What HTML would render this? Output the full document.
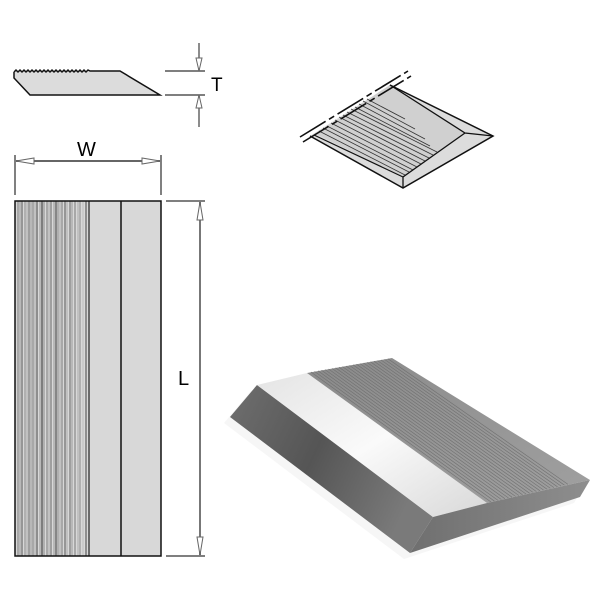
<!DOCTYPE html>
<html><head><meta charset="utf-8"><style>
html,body{margin:0;padding:0;background:#fff;width:600px;height:600px;overflow:hidden}
svg{display:block}
text{font-family:"Liberation Sans",sans-serif;fill:#000}
</style></head><body>
<svg width="600" height="600" viewBox="0 0 600 600" xmlns="http://www.w3.org/2000/svg">
<defs>
<linearGradient id="bev" x1="0" y1="0" x2="1" y2="0.4">
<stop offset="0" stop-color="#6f6f6f"/><stop offset="0.5" stop-color="#555"/><stop offset="1" stop-color="#7a7a7a"/></linearGradient>
<linearGradient id="wht" x1="0" y1="0" x2="1" y2="1">
<stop offset="0" stop-color="#e4e4e4"/><stop offset="0.5" stop-color="#fafafa"/><stop offset="1" stop-color="#d8d8d8"/></linearGradient>
<linearGradient id="rid" x1="0" y1="0" x2="1" y2="1">
<stop offset="0" stop-color="#8a8a8a"/><stop offset="1" stop-color="#a0a0a0"/></linearGradient>
<linearGradient id="frt" x1="0" y1="0" x2="1" y2="0">
<stop offset="0" stop-color="#6f6f6f"/><stop offset="1" stop-color="#8e8e8e"/></linearGradient>
</defs>

<polygon points="14,72 14,78 30,95 160,95 120,71 89,71 14,72" fill="#dcdcdc" stroke="none"/>
<polyline points="14,72 16,70 18,72 20,70 22,72 24,70 26,72 28,70 30,72 32,70 34,72 36,70 38,72 40,70 42,72 44,70 46,72 48,70 50,72 52,70 54,72 56,70 58,72 60,70 62,72 64,70 66,72 68,70 70,72 72,70 74,72 76,70 78,72 80,70 82,72 84,70 86,72 88,70 90,71 120,71 160,95 30,95 14,78 14,72" fill="none" stroke="#111" stroke-width="1.5"/>
<line x1="165" y1="71" x2="205" y2="71" stroke="#555" stroke-width="1.5"/>
<line x1="165" y1="95" x2="205" y2="95" stroke="#555" stroke-width="1.5"/>
<line x1="199" y1="43" x2="199" y2="70" stroke="#666" stroke-width="1.5"/>
<polygon points="196,58 199,71 202,58" fill="#fff" stroke="#666"/>
<line x1="199" y1="96" x2="199" y2="127" stroke="#666" stroke-width="1.5"/>
<polygon points="196,108 199,95 202,108" fill="#fff" stroke="#666"/>
<text x="211" y="91" font-size="19">T</text>

<line x1="15" y1="155" x2="15" y2="195" stroke="#555" stroke-width="1.5"/>
<line x1="161" y1="155" x2="161" y2="195" stroke="#555" stroke-width="1.5"/>
<line x1="16" y1="161" x2="160" y2="161" stroke="#666" stroke-width="2"/>
<polygon points="16,161 34,158 34,164" fill="#fff" stroke="#666"/>
<polygon points="160,161 142,158 142,164" fill="#fff" stroke="#666"/>
<text x="77" y="156" font-size="20">W</text>

<rect x="15" y="201" width="146" height="355" fill="#d8d8d8"/>
<g stroke-width="1">
<line x1="18" y1="201" x2="18" y2="556" stroke="#777"/>
<line x1="20" y1="201" x2="20" y2="556" stroke="#999"/>
<line x1="22" y1="201" x2="22" y2="556" stroke="#555"/>
<line x1="25" y1="201" x2="25" y2="556" stroke="#888"/>
<line x1="27" y1="201" x2="27" y2="556" stroke="#aaa"/>
<line x1="29" y1="201" x2="29" y2="556" stroke="#666"/>
<line x1="31" y1="201" x2="31" y2="556" stroke="#999"/>
<line x1="33" y1="201" x2="33" y2="556" stroke="#777"/>
<line x1="35" y1="201" x2="35" y2="556" stroke="#aaa"/>
<line x1="37" y1="201" x2="37" y2="556" stroke="#444"/>
<line x1="40" y1="201" x2="40" y2="556" stroke="#999"/>
<line x1="42" y1="201" x2="42" y2="556" stroke="#222"/>
<line x1="44" y1="201" x2="44" y2="556" stroke="#888"/>
<line x1="47" y1="201" x2="47" y2="556" stroke="#777"/>
<line x1="49" y1="201" x2="49" y2="556" stroke="#aaa"/>
<line x1="51" y1="201" x2="51" y2="556" stroke="#666"/>
<line x1="54" y1="201" x2="54" y2="556" stroke="#999"/>
<line x1="56" y1="201" x2="56" y2="556" stroke="#333"/>
<line x1="58" y1="201" x2="58" y2="556" stroke="#888"/>
<line x1="60" y1="201" x2="60" y2="556" stroke="#aaa"/>
<line x1="62" y1="201" x2="62" y2="556" stroke="#777"/>
<line x1="65" y1="201" x2="65" y2="556" stroke="#555"/>
<line x1="67" y1="201" x2="67" y2="556" stroke="#aaa"/>
<line x1="70" y1="201" x2="70" y2="556" stroke="#666"/>
<line x1="72" y1="201" x2="72" y2="556" stroke="#999"/>
<line x1="75" y1="201" x2="75" y2="556" stroke="#777"/>
<line x1="78" y1="201" x2="78" y2="556" stroke="#aaa"/>
<line x1="80" y1="201" x2="80" y2="556" stroke="#888"/>
<line x1="83" y1="201" x2="83" y2="556" stroke="#bbb"/>
<line x1="86" y1="201" x2="86" y2="556" stroke="#444"/>
</g>
<line x1="89" y1="201" x2="89" y2="556" stroke="#222" stroke-width="1.2"/>
<line x1="121" y1="201" x2="121" y2="556" stroke="#111" stroke-width="1.5"/>
<rect x="15" y="201" width="146" height="355" fill="none" stroke="#111" stroke-width="1.5"/>

<line x1="166" y1="201" x2="205" y2="201" stroke="#555" stroke-width="1.5"/>
<line x1="166" y1="556" x2="205" y2="556" stroke="#555" stroke-width="1.5"/>
<line x1="200" y1="202" x2="200" y2="555" stroke="#777" stroke-width="2"/>
<polygon points="197,220 200,202 203,220" fill="#fff" stroke="#666"/>
<polygon points="197,537 200,555 203,537" fill="#fff" stroke="#666"/>
<text x="178" y="385" font-size="20">L</text>

<polygon points="310,136 403,188 493,136 390,85" fill="#dcdcdc"/>
<polygon points="316,134 390,85 465,133 403,177" fill="#d0d0d0"/>
<g stroke="#333" stroke-width="0.8">
<line x1="319" y1="131" x2="405" y2="175"/>
<line x1="323" y1="128" x2="409" y2="172"/>
<line x1="327" y1="126" x2="413" y2="170"/>
<line x1="331" y1="123" x2="417" y2="167"/>
<line x1="335" y1="120" x2="421" y2="164"/>
<line x1="339" y1="117" x2="425" y2="161"/>
<line x1="343" y1="115" x2="429" y2="158"/>
<line x1="347" y1="112" x2="433" y2="155"/>
<line x1="351" y1="109" x2="437" y2="152"/>
<line x1="355" y1="107" x2="430" y2="146"/>
<line x1="359" y1="104" x2="425" y2="139"/>
<line x1="363" y1="101" x2="415" y2="129"/>
<line x1="367" y1="99" x2="405" y2="119"/>
</g>
<polyline points="310,136 403,188 493,136 390,85" fill="none" stroke="#111" stroke-width="1.5"/>
<polyline points="390,85 465,133 493,136" fill="none" stroke="#111" stroke-width="1.3"/>
<polyline points="465,133 403,177 403,188" fill="none" stroke="#111" stroke-width="1.3"/>
<line x1="314" y1="135" x2="403" y2="177" stroke="#111" stroke-width="1.2"/>
<g stroke="#111" stroke-width="1.6" stroke-dasharray="30,4,6,4">
<line x1="300" y1="137" x2="408" y2="71"/>
<line x1="303" y1="142" x2="411" y2="76"/>
</g>

<polygon points="230,417 257,385 307,373 392,358 590,480 580,497 410,553" fill="#ededed" opacity="0.5" transform="translate(-6,6)"/>
<polygon points="230,417 257,385 433,517 410,553" fill="url(#bev)"/>
<polygon points="257,385 307,373 487,503 433,517" fill="url(#wht)"/>
<polygon points="307,373 392,358 590,480 487,503" fill="url(#rid)"/>
<g stroke="#6e6e6e" stroke-width="0.7" opacity="0.85">
<line x1="311" y1="372" x2="491" y2="502"/>
<line x1="314.5" y1="371.4" x2="494.5" y2="501.2"/>
<line x1="318" y1="370.8" x2="498" y2="500.4"/>
<line x1="321.5" y1="370.2" x2="501.5" y2="499.6"/>
<line x1="325" y1="369.6" x2="505" y2="498.8"/>
<line x1="328.5" y1="369" x2="508.5" y2="498"/>
<line x1="332" y1="368.4" x2="512" y2="497.2"/>
<line x1="335.5" y1="367.8" x2="515.5" y2="496.4"/>
<line x1="339" y1="367.2" x2="519" y2="495.6"/>
<line x1="342.5" y1="366.6" x2="522.5" y2="494.8"/>
<line x1="346" y1="366" x2="526" y2="494"/>
<line x1="349.5" y1="365.4" x2="529.5" y2="493.2"/>
<line x1="353" y1="364.8" x2="533" y2="492.4"/>
<line x1="356.5" y1="364.2" x2="536.5" y2="491.6"/>
<line x1="360" y1="363.6" x2="540" y2="490.8"/>
<line x1="363.5" y1="363" x2="543.5" y2="490"/>
<line x1="367" y1="362.4" x2="547" y2="489.2"/>
<line x1="370.5" y1="361.8" x2="550.5" y2="488.4"/>
<line x1="374" y1="361.2" x2="554" y2="487.6"/>
<line x1="377.5" y1="360.6" x2="557.5" y2="486.8"/>
<line x1="381" y1="360" x2="561" y2="486"/>
<line x1="384.5" y1="359.4" x2="564.5" y2="485.2"/>
<line x1="388" y1="358.8" x2="568" y2="484.4"/>
</g>
<polygon points="433,517 487,503 590,480 580,497 410,553" fill="url(#frt)"/>
</svg>
</body></html>
